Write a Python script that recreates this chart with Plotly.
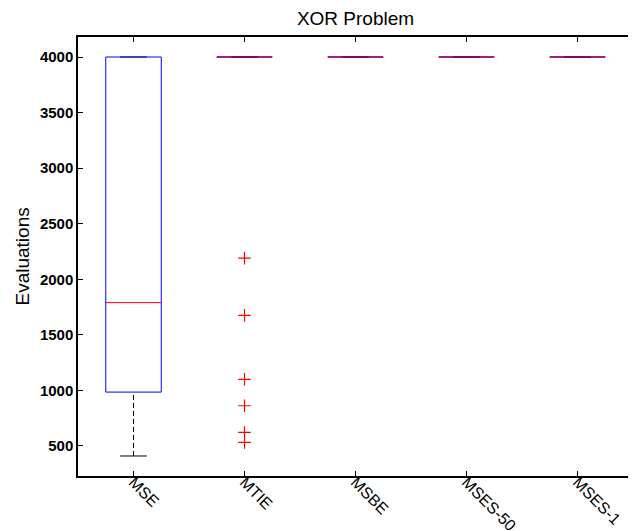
import plotly.graph_objects as go

categories = ["MSE", "MTIE", "MSBE", "MSES-50", "MSES-1"]
q1 = [985, 4000, 4000, 4000, 4000]
medians = [1790, 4000, 4000, 4000, 4000]
q3 = [4000, 4000, 4000, 4000, 4000]
lower_whisker = [410, 4000, 4000, 4000, 4000]
upper_whisker = [4000, 4000, 4000, 4000, 4000]
outliers = {
    "MTIE": [2190, 1675, 1100, 862, 622, 532],
}
y_ticks = [500, 1000, 1500, 2000, 2500, 3000, 3500, 4000]

BOX_HALF = 0.25
CAP_HALF = 0.12
FONT = "Liberation Sans, Arial, sans-serif"

# the page body has an 8px margin, so the figure is drawn 8px right and down
W, H = 628, 523

fig = go.Figure()

def add_line(xs, ys, color, dash="solid", width=1):
    fig.add_trace(go.Scatter(x=xs, y=ys, mode="lines",
                             line=dict(color=color, width=width, dash=dash),
                             hoverinfo="skip", showlegend=False))

for i, cat in enumerate(categories):
    xc = i + 1
    if lower_whisker[i] < q1[i]:
        add_line([xc, xc], [lower_whisker[i], q1[i]], "black", dash="5px,3px")
    if upper_whisker[i] > q3[i]:
        add_line([xc, xc], [q3[i], upper_whisker[i]], "black", dash="5px,3px")
    add_line([xc - CAP_HALF, xc + CAP_HALF], [lower_whisker[i]] * 2, "black")
    add_line([xc - CAP_HALF, xc + CAP_HALF], [upper_whisker[i]] * 2, "black")
    add_line([xc - BOX_HALF, xc + BOX_HALF, xc + BOX_HALF, xc - BOX_HALF, xc - BOX_HALF],
             [q1[i], q1[i], q3[i], q3[i], q1[i]], "blue")
    add_line([xc - BOX_HALF, xc + BOX_HALF], [medians[i]] * 2, "red")
    if cat in outliers:
        vals = outliers[cat]
        fig.add_trace(go.Scatter(x=[xc] * len(vals), y=vals, mode="markers",
                                 marker=dict(symbol="cross-thin-open", size=9, color="red",
                                             line=dict(color="red", width=1.2)),
                                 hoverinfo="skip", showlegend=False))

fig.update_layout(
    width=W, height=H,
    margin=dict(l=70, r=3, t=29, b=55, autoexpand=False),
    paper_bgcolor="white", plot_bgcolor="white",
    font=dict(family=FONT, color="black"),
    title=dict(text="XOR Problem", x=0.5, xref="paper", xanchor="center",
               y=1 - 10 / H, yref="container", yanchor="middle",
               font=dict(size=19, family=FONT, color="black"), automargin=False),
    showlegend=False,
)
fig.update_xaxes(
    range=[0.5, 5.5], tickmode="array", tickvals=list(range(1, len(categories) + 1)),
    ticktext=categories, tickangle=45, ticks="inside", ticklen=5, tickcolor="black",
    showline=True, linecolor="black", linewidth=1.5, mirror="ticks",
    showgrid=False, zeroline=False, automargin=False, ticklabelstandoff=-11,
    tickfont=dict(size=16, family=FONT, color="black"),
)
fig.update_yaxes(
    range=[230, 4180], tickmode="array", tickvals=y_ticks,
    ticktext=[f"<b>{v}</b>" for v in y_ticks], ticks="inside", ticklen=5, tickcolor="black",
    showline=True, linecolor="black", linewidth=1.5, mirror="ticks",
    showgrid=False, zeroline=False, automargin=False,
    tickfont=dict(size=15, family=FONT, color="black"),
)
fig.add_annotation(text="Evaluations", xref="paper", yref="paper",
                   x=(22 - 78) / 555, y=0.5, xanchor="center", yanchor="middle",
                   textangle=-90, showarrow=False,
                   font=dict(size=19, family=FONT, color="black"))

fig.write_html("out.html")
